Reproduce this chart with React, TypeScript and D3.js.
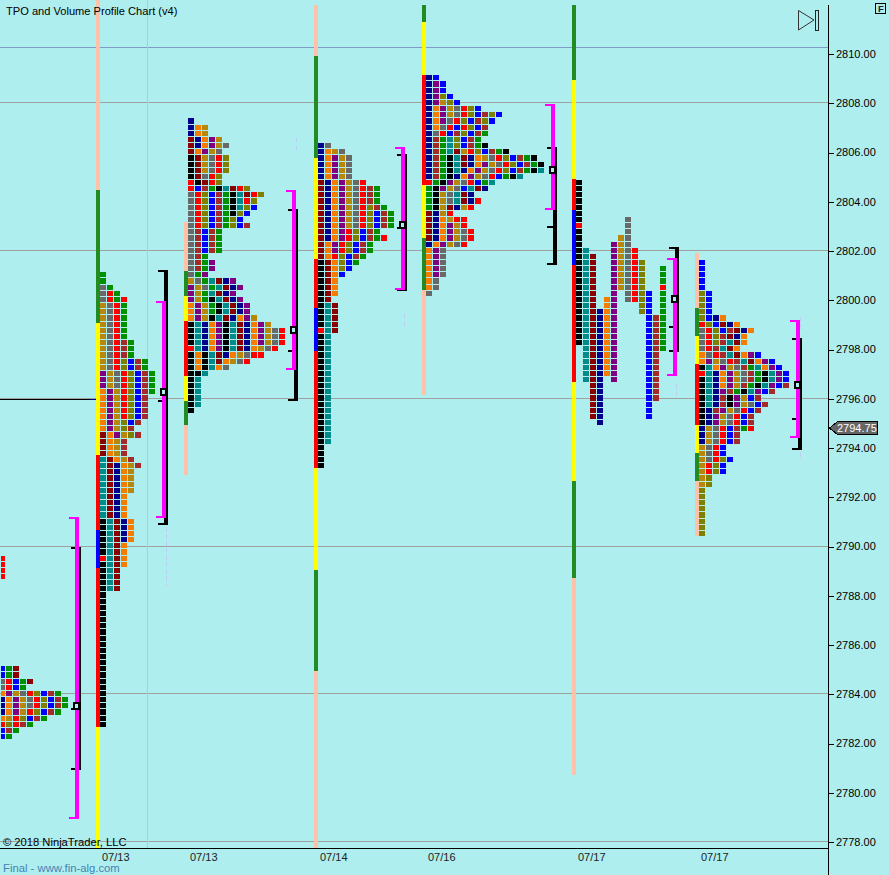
import React from "react";
import * as d3 from "d3";

// ---- price grid / labels
const priceTicks = [2778,2780,2782,2784,2786,2788,2790,2792,2794,2796,2798,2800,2802,2804,2806,2808,2810];
const gridPrices = [2808,2802,2796,2790,2784,2778];
const upperGridPrice = 2810.27;
const lastPrice = 2794.75;
const dateLabels = ["07/13","07/13","07/14","07/16","07/17","07/17"];
const dateColumns = [14.57,27.14,45.71,61.14,82.57,100.14];

// ---- TPO rows (top price, one letter per period, top row first)
const stubTop = 2789.5;
const stubRows = ["R","R","R","R"];
const s0Top = 2785;
const s0Rows = ["BGM","BGM","YRBGM","YRBG","OPDYRLBWG","NOPDYRLBWG","NOPDYRLBWG","NOPDRLBWG","ODRLBWG","RLRWG","BWG","BG"];
const s1Top = 2801;
const s1Rows = ["G","G","YG","YRG","YRGR","DYRG","DYRG","DYRG","DYRG","DYRG","DYRG","DYRWG","DYRWG","DYRWG","DYRLBWG","DYRLBWG",
  "PDYRLBWG","PDYRLBWG","PDYRLBWG","OPDRLBWG","OPDRLBW","OPDRLBW","OPDRLBW","OPDRLBW","OPDLBW","OPDLW","MOPDLW","MODW","MODW","MODW","TMODW","TMNODW",
  "TMNOD","TMNOD","TMNOD","TMNOD","TMNO","TMNO","TMNO","TMNO","KTMNO","KTMNO","KTMNO","KTMNO","KTMO","KTMO","RTMO","KTMO","KTM","KTM","KTM","KTM","K","K",
  "K","K","K","K","K","K","K","K","K","K","K","K","K","K","K","K","K","K","K","K"];
const s2Top = 2807.25;
const s2Rows = ["N","NOD","NOD","MNOPD","MNOPDY","MOPDY","KMDYRL","KMDYRL","KMDYRL","KMYRL","RKMRL","RBWGKTMRL","YRLBWGKTMRL","YRLBWGKTRL","YRLBWGKTLB","YRLBWGKLB","YRLBWGLB","YRLBWGLBW",
  "YWBWG","YWBWG","YWBWG","YWBWG","YWG","YWGP","YWGP","YGP",
  "DYGTMNP","PDYGTMNP","PDGTMNP","PDGKTMNP","OPDGKTMNP","OPDGKTMNP","OPDKTMNOPD","KTNOPKTMNOPD","KTNOPKTMNOPDYR","KTNOPKTMNOPDYR","KTNOPKTMNOPDYR","RTNOPKTMNODYR","KOKTMNODYRR","KOKTMODYR","KOKTOY","KKT","KT","KT","KT","KT","KT","K"];
const s3Top = 2806.25;
const s3Rows = ["NY","NODY","NOPDY","NOPDY","NOPDY","NOPDY","MNOPDYR","MNOPDYRWG","MNOPDYRWG","MNOPDYRWG","MNOPDYRLWG","MNOPDYRLBWG","MNOPDYRLBWG","MNOPDYRLBWG","MNOPRLBWG","MNOPRLBWGR","MOPRLBWG","MOPRLBWG","MORLBWG","KMOLBG","KMOLB","KMOB","KMO","KMO","KMO","KM",
  "KTM","KTM","KTM","KTM","RTM","KT","KT","KT","KT","KT","KT","KT","KT","KT","KT","KT","KT","KT","KT","KT","KT","KT","KT","K","K","K","K"];
const s4Top = 2809;
const s4Rows = ["NB","NPB","NPB","NPLB","NPDLB","NOPDYRLB","NOPDYRLBWLB","NOPYRLBWLB","NOYRBRLBW","NYRBWLBWG","NWGTLBWG","NWGTLBWGK","NWGTMDRLBWGK","NWGKTMNODYRLBWGK","NWGKTMNOPDYRLBWGK","NWGKTNOPDYRLBWGKT","NWGKNOPDYRBGKT","RGKPDYRBGT","GKPDYBTMN",
  "GKDYTMN","GKDYTMNR","GKDMNDR","MNDR","MNODRR","MNOPDR","MNOPDYR","MNOPDYR","NOPDYR","OPY","OPY","OPY","OPY","OPY","OY","OY","Y"];
const s6Top = 2801.5;
const s6Rows = ["B","B","B","B","B","LB","LB","LB","LB","LBNO","RLBMNO","YRLBWMNO","YRLWMNO","YRLWTMO","YRWTMO","OYRWTMOPB","OPDYRWTMOPB","KTOPDYWGTOPB","RTNOPDYWGKTPB","KTNOPDYWGKTPB","KTNOPDWGKTPBW","KTNPWGKTPBW","KTNWKPDBW","KTNWKPDYBW","KNWPDYRBW","KNPDYRBW","KNPDYRBW","NDYRBWGR","NDYRBW","NDYRBW","DYRB","DYRB","DYRLB","DRLB","DRLB","DL","DL","L","L","L","L","L","L","L","L"];

// session 5 has gaps, so it is read column by column
const s5ColumnTops = [2804.75,2802,2801.75,2799.5,2800,2802.25,2802.5,2803.25,2802,2801.5,2800.25,2799.25,2801.25];
const s5Columns = [
  "KKKKKKKRKKKKKKKKKKKKKKKKKKK",
  "TTTTTTTTTTTTTTTTTTTTTT",
  "MMMMMMMMMMMMMMMMMMMMMMMMMMM",
  "NNNNNNNNNNNNNNNNNNN",
  "OOOOOOOOOOOOO",
  "PPPPPPPPPPPPPPPPPPPPPPP",
  "DDDDDDDDD",
  "YYYYYYYYYYYYYY",
  "RRRRRRRRR",
  "LLLLLLLLL",
  "BBBBBBBBBBBBBBBBBBBBB",
  "WWWWWWWWWWWWWW",
  "GGGRGGGGGGGGGG",
];

const sessionColumns = [-0.14, 14.29, 26.86, 45.43, 60.86, 82.29, 99.86];

// ---- period bars: [high, low, letter]
type Seg = [number, number, string];
const s1Bar: Seg[] = [[2812.19,2804.48,"p"],[2804.48,2799.08,"f"],[2799.08,2793.72,"y"],[2793.72,2790.67,"R"],[2790.67,2789.13,"B"],[2789.13,2782.67,"R"],[2782.67,2777.76,"y"]];
const s2Bar: Seg[] = [[2803.18,2801.19,"p"],[2801.19,2800.17,"f"],[2800.17,2799.16,"y"],[2799.16,2796.92,"R"],[2796.92,2795.91,"y"],[2795.91,2794.93,"f"],[2794.93,2792.9,"p"]];
const s3Bar: Seg[] = [[2811.99,2809.92,"p"],[2809.92,2805.78,"f"],[2805.78,2801.68,"y"],[2801.68,2799.69,"R"],[2799.69,2797.94,"B"],[2797.94,2793.19,"R"],[2793.19,2789.05,"y"],[2789.05,2784.94,"f"],[2784.94,2777.76,"p"]];
const s4Bar: Seg[] = [[2811.99,2811.3,"f"],[2811.3,2809.15,"y"],[2809.15,2804.68,"R"],[2804.68,2802.53,"y"],[2802.53,2800.42,"f"],[2800.42,2796.15,"p"]];
const s5Bar: Seg[] = [[2811.99,2808.94,"f"],[2808.94,2804.92,"y"],[2804.92,2803.67,"R"],[2803.67,2801.43,"B"],[2801.43,2796.68,"R"],[2796.68,2792.66,"y"],[2792.66,2788.72,"f"],[2788.72,2780.72,"p"]];
const s6Bar: Seg[] = [[2801.92,2799.69,"p"],[2799.69,2798.55,"f"],[2798.55,2797.41,"y"],[2797.41,2794.93,"R"],[2794.93,2793.8,"y"],[2793.8,2792.66,"f"],[2792.66,2790.43,"p"]];

// ---- range brackets: column, magenta high/low, black high/low, extra ticks, POC
const bracketColumns = [10.71, 23.14, 41.71, 57.29, 78.71, 96.14, 113.71];
const rangeHigh = [2791.2, 2799.97, 2804.48, 2806.22, 2807.97, 2801.72, 2799.2];
const rangeLow = [2778.93, 2791.16, 2797.17, 2800.42, 2803.67, 2796.92, 2794.41];
const extremeHigh = [2789.98, 2801.23, 2803.71, 2805.94, 2806.22, 2802.16, 2798.47];
const extremeLow = [2780.92, 2790.87, 2795.91, 2800.38, 2801.43, 2797.9, 2793.92];
const innerTicks = [[2783.4], [2795.91], [2797.94], [2802.93], [2802.97], [2798.91, 2797.94], [2795.18]];
const pocPrices = [2783.5, 2796.25, 2798.75, 2803, 2805.25, 2800, 2796.5];

// faint dashes: column, high, low
const faintDashes: [number, number, number][] = [
  [23.8, 2790.8, 2788.4], [42.3, 2806.6, 2806.05], [57.85, 2799.45, 2798.9], [96.7, 2796.6, 2796.05], [114.4, 2794.4, 2793.5], [114.4, 2799.3, 2798.8],
];

const palette: Record<string, string> = {
  K: "#000000", R: "#ff0000", B: "#0000ff", N: "#00008b", O: "#f67c00", G: "#009000", T: "#008b8b",
  M: "#8b0000", P: "#800080", D: "#b8860b", Y: "#696969", W: "#a52a2a", L: "#808000",
  y: "#ffff00", f: "#228b22", p: "#ffc2a9",
};

const W = 889, H = 875;
const y = d3.scaleLinear().domain([2778, 2810]).range([842, 54]);
const x = d3.scaleLinear().domain([0, 127]).range([0, 889]);
const TICK = 0.25;
const font = "'Liberation Sans', Arial, sans-serif";

function rowsToCells(col0: number, top: number, rows: string[]) {
  const out: { c: number; p: number; k: string }[] = [];
  rows.forEach((r, i) => r.split("").forEach((k, j) => out.push({ c: col0 + j, p: top - i * TICK, k })));
  return out;
}
function columnsToCells(col0: number, tops: number[], cols: string[]) {
  const out: { c: number; p: number; k: string }[] = [];
  cols.forEach((s, j) => s.split("").forEach((k, i) => out.push({ c: col0 + j, p: tops[j] - i * TICK, k })));
  return out;
}

const allCells = [
  ...rowsToCells(sessionColumns[0], stubTop, stubRows),
  ...rowsToCells(sessionColumns[0], s0Top, s0Rows),
  ...rowsToCells(sessionColumns[1], s1Top, s1Rows),
  ...rowsToCells(sessionColumns[2], s2Top, s2Rows),
  ...rowsToCells(sessionColumns[3], s3Top, s3Rows),
  ...rowsToCells(sessionColumns[4], s4Top, s4Rows),
  ...columnsToCells(sessionColumns[5], s5ColumnTops, s5Columns),
  ...rowsToCells(sessionColumns[6], s6Top, s6Rows),
];
const bars: [number, Seg[]][] = [
  [sessionColumns[1], s1Bar], [sessionColumns[2], s2Bar], [sessionColumns[3], s3Bar],
  [sessionColumns[4], s4Bar], [sessionColumns[5], s5Bar], [sessionColumns[6], s6Bar],
];

export default function App() {
  const bg = "#afeeee";
  const lastY = y(lastPrice) - 1.5;
  return (
    <svg width={W} height={H} viewBox={`0 0 ${W} ${H}`} style={{ position: "absolute", left: 0, top: 0, display: "block" }} shapeRendering="crispEdges">
      <defs><clipPath id="plot"><rect x={1} y={0} width={827} height={848} /></clipPath></defs>
      <rect width={W} height={H} fill={bg} />

      {/* grid */}
      <rect x={0} y={Math.round(y(upperGridPrice))} width={828} height={1} fill="#7f9cc4" />
      {gridPrices.map((p) => <rect key={p} x={0} y={Math.round(y(p)) - 1} width={828} height={1} fill="#a0a0a0" />)}
      <rect x={Math.round(x(21))} y={0} width={1} height={848} fill="#b9c6cc" />
      <rect x={0} y={Math.round(y(2796))} width={Math.round(x(12.85))} height={1} fill="#000" />
      <rect x={Math.round(x(12.85))} y={Math.round(y(2796))} width={8} height={1} fill="#00008b" />

      <g clipPath="url(#plot)">
        {faintDashes.map(([c, hi, lo], i) => (
          <line key={i} x1={x(c)} x2={x(c)} y1={y(hi)} y2={y(lo)} stroke="#bcd0f4" strokeWidth={1} strokeDasharray="5 2" />
        ))}

        {/* period bars */}
        {bars.map(([c, segs], i) => segs.map(([hi, lo, k], j) => (
          <rect key={`${i}-${j}`} x={Math.round(x(c)) - 4} width={4} y={Math.round(y(hi))} height={Math.round(y(lo)) - Math.round(y(hi))} fill={palette[k]} />
        )))}

        {/* TPO cells */}
        {allCells.map((d, i) => {
          const top = Math.round(y(d.p) - 3.3);
          const bot = Math.round(y(d.p) + 1.85);
          return <rect key={i} x={Math.round(x(d.c))} y={top} width={6} height={bot - top} fill={palette[d.k]} />;
        })}

        {/* brackets */}
        {bracketColumns.map((c, i) => {
          const mx = Math.round(x(c));
          const bx = mx + 2;
          const bt = Math.round(y(extremeHigh[i]));
          const bb = Math.round(y(extremeLow[i]));
          const mt = Math.round(y(rangeHigh[i]));
          const mb = Math.round(y(rangeLow[i]));
          const py = Math.round(y(pocPrices[i]));
          return (
            <g key={i}>
              <rect x={bx} y={bt} width={4} height={bb - bt} fill="#000" />
              <rect x={bx - 6} y={bt} width={6} height={2} fill="#000" />
              <rect x={bx - 6} y={bb - 2} width={6} height={2} fill="#000" />
              {innerTicks[i].map((t) => <rect key={t} x={bx - 6} y={Math.round(y(t)) - 1} width={6} height={2} fill="#000" />)}
              <rect x={mx} y={mt} width={4} height={mb - mt} fill="#ff00ff" />
              <rect x={mx - 6} y={mt} width={6} height={2} fill="#ff00ff" />
              <rect x={mx - 6} y={mb - 2} width={6} height={2} fill="#ff00ff" />
              <rect x={mx - 2} y={py - 5} width={7} height={8} fill="#000" />
              <rect x={mx} y={py - 3} width={3} height={4} fill={bg} />
            </g>
          );
        })}
      </g>

      {/* axes */}
      <rect x={0} y={848} width={828} height={1} fill="#000" />
      <rect x={828} y={5} width={1} height={870} fill="#000" />
      {priceTicks.map((p) => (
        <g key={p}>
          <rect x={829} y={Math.round(y(p))} width={5} height={1} fill="#000" />
          <text x={836} y={y(p) + 3.8} fontFamily={font} fontSize={11} fill="#000" shapeRendering="auto">{d3.format(".2f")(p)}</text>
        </g>
      ))}
      <path d={`M829.5 ${lastY} L837.5 ${lastY - 6.5} H877.5 V${lastY + 6.5} H837.5 Z`} fill="#666" stroke="#000" strokeWidth={1} />
      <text x={837} y={lastY + 4} fontFamily={font} fontSize={11} fill="#fff" shapeRendering="auto">{d3.format(".2f")(lastPrice)}</text>

      {dateLabels.map((d, i) => (
        <text key={i} x={x(dateColumns[i])} y={861} fontFamily={font} fontSize={11} fill="#222">{d}</text>
      ))}

      {/* furniture */}
      <text x={6} y={15} fontFamily={font} fontSize={11.1} fill="#000">TPO and Volume Profile Chart (v4)</text>
      <text x={3} y={846} fontFamily={font} fontSize={11.2} fill="#000">© 2018 NinjaTrader, LLC</text>
      <text x={3} y={872} fontFamily={font} fontSize={11.3} fill="#4682b4">Final - www.fin-alg.com</text>
      <rect x={875.5} y={3.5} width={10} height={10} fill="none" stroke="#000" />
      <text x={878} y={12} fontFamily={font} fontSize={9.5} fontWeight="bold" fill="#222">F</text>
      <path d="M798.5 10.5 L814 20 L798.5 30 Z" fill="none" stroke="#333" strokeWidth={1} shapeRendering="auto" />
      <rect x={815.5} y={10.5} width={3} height={19.5} fill="none" stroke="#222" />
    </svg>
  );
}
